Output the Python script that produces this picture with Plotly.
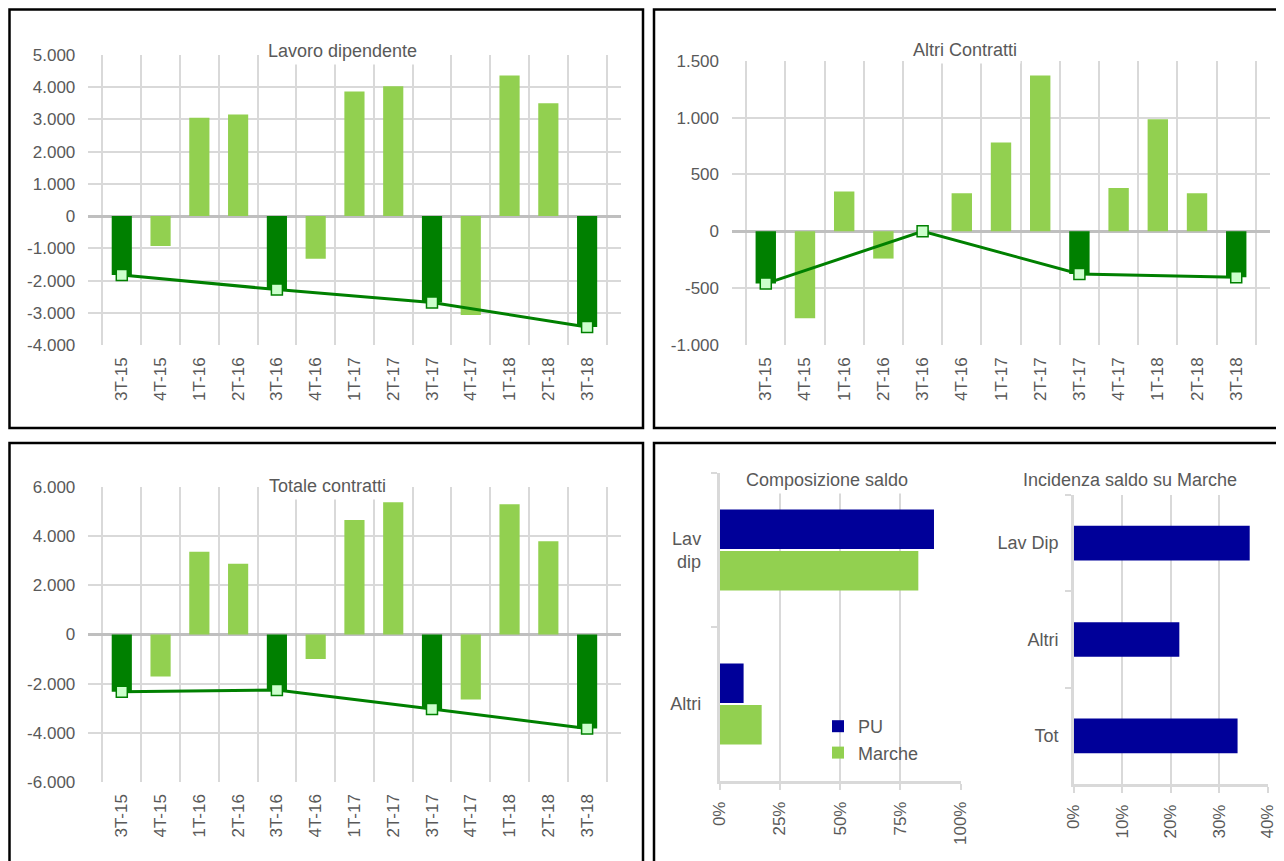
import plotly.graph_objects as go

# page body has an 8px margin: draw the figure smaller and shift coordinates
OFF = 8
W, H = 1284 - OFF, 861 - OFF

# data
quarters = ["3T-15", "4T-15", "1T-16", "2T-16", "3T-16", "4T-16", "1T-17",
            "2T-17", "3T-17", "4T-17", "1T-18", "2T-18", "3T-18"]
lavoro_dip = [-1830, -930, 3050, 3150, -2280, -1320, 3870, 4030, -2680, -3070, 4360, 3500, -3440]
altri_contratti = [-460, -765, 350, -240, 0, 335, 780, 1370, -375, 380, 985, 335, -405]
totale_contratti = [-2330, -1710, 3370, 2880, -2260, -1000, 4670, 5390, -3040, -2650, 5310, 3800, -3830]

lav_ticks = [-4000, -3000, -2000, -1000, 0, 1000, 2000, 3000, 4000, 5000]
altri_ticks = [-1000, -500, 0, 500, 1000, 1500]
tot_ticks = [-6000, -4000, -2000, 0, 2000, 4000, 6000]

comp_labels = ["Lav<br>dip", "Altri"]
comp_pu = [89, 10]
comp_marche = [82.5, 17.5]
comp_ticks = [0, 25, 50, 75, 100]

inc_labels = ["Lav Dip", "Altri", "Tot"]
inc_pu = [36.25, 21.75, 33.75]
inc_ticks = [0, 10, 20, 30, 40]

LIGHT = "#92D050"
DARK = "#008000"
BLUE = "#000099"
GRID = "#D9D9D9"
TXT = "#595959"
FONT = "Liberation Sans, Arial, sans-serif"


def fx(p):
    return (p - OFF) / W


def fy(p):
    return 1 - (p - OFF) / H


def thousands(v):
    return f"{v:,}".replace(",", ".")


fig = go.Figure()

panels = [
    ("x", "y", lavoro_dip),
    ("x2", "y2", altri_contratti),
    ("x3", "y3", totale_contratti),
]
for xa, ya, vals in panels:
    colors = [DARK if q.startswith("3T") else LIGHT for q in quarters]
    fig.add_trace(go.Bar(x=quarters, y=vals, marker_color=colors, marker_line_width=0,
                         width=0.52, xaxis=xa, yaxis=ya, showlegend=False))
    x3t = [q for q in quarters if q.startswith("3T")]
    y3t = [v for q, v in zip(quarters, vals) if q.startswith("3T")]
    fig.add_trace(go.Scatter(x=x3t, y=y3t, mode="lines+markers", xaxis=xa, yaxis=ya,
                             line=dict(color=DARK, width=3),
                             marker=dict(symbol="square", size=11, color="#CCFFCC",
                                         line=dict(color=DARK, width=1.5)),
                             showlegend=False))

# composizione saldo
fig.add_trace(go.Bar(y=comp_labels, x=comp_pu, orientation="h", name="PU",
                     marker_color=BLUE, marker_line_width=0, xaxis="x4", yaxis="y4"))
fig.add_trace(go.Bar(y=comp_labels, x=comp_marche, orientation="h", name="Marche",
                     marker_color=LIGHT, marker_line_width=0, xaxis="x4", yaxis="y4"))
# incidenza
fig.add_trace(go.Bar(y=inc_labels, x=inc_pu, orientation="h", name="PU", showlegend=False,
                     marker_color=BLUE, marker_line_width=0, xaxis="x5", yaxis="y5",
                     width=0.36))

tick_font = dict(family=FONT, size=17, color=TXT)

cat_x = dict(type="category", categoryorder="array", categoryarray=quarters,
             tickson="boundaries", ticks="", showgrid=True, gridcolor=GRID, gridwidth=1.5,
             tickangle=-90, tickfont=tick_font, showline=False, zeroline=False,
             ticklabelstandoff=8)


def val_y(ticks, anchor, top, bottom):
    return dict(range=[ticks[0], ticks[-1]], tickvals=ticks,
                ticktext=[thousands(t) for t in ticks], showgrid=True, gridcolor=GRID,
                gridwidth=1.5, zeroline=True, zerolinecolor="#BFBFBF", zerolinewidth=3,
                tickfont=tick_font, anchor=anchor, domain=[fy(bottom), fy(top)],
                ticklabelstandoff=12)


pct_x = dict(tickangle=-90, tickfont=tick_font, showgrid=True, gridcolor=GRID,
             gridwidth=1.5, showline=True, linecolor=GRID, linewidth=2.5,
             ticks="outside", ticklen=6, tickcolor=GRID, tickwidth=1.5, zeroline=False,
             ticklabelstandoff=5)
cat_y = dict(autorange="reversed", tickson="boundaries", ticks="outside", ticklen=6,
             tickcolor=GRID, tickwidth=1.5, showline=True, linecolor=GRID, linewidth=2.5,
             tickfont=dict(family=FONT, size=18, color=TXT), showgrid=False)

fig.update_layout(
    width=W, height=H, autosize=False,
    margin=dict(l=0, r=0, t=0, b=0, autoexpand=False),
    paper_bgcolor="white", plot_bgcolor="white",
    font=dict(family=FONT, color=TXT),
    bargap=0.46, bargroupgap=0.05, barmode="group",
    xaxis=dict(cat_x, domain=[fx(88.3), fx(620.6)], anchor="y"),
    yaxis=val_y(lav_ticks, "x", 55, 345),
    xaxis2=dict(cat_x, domain=[fx(732), fx(1270)], anchor="y2"),
    yaxis2=val_y(altri_ticks, "x2", 60.7, 345),
    xaxis3=dict(cat_x, domain=[fx(88.3), fx(620.6)], anchor="y3"),
    yaxis3=val_y(tot_ticks, "x3", 487.3, 781.7),
    xaxis4=dict(pct_x, domain=[fx(719.5), fx(960.5)], anchor="y4", range=[0, 100],
                tickvals=comp_ticks, ticktext=[f"{t}%" for t in comp_ticks]),
    yaxis4=dict(cat_y, domain=[fy(781), fy(473)], anchor="x4", ticklabelstandoff=12),
    xaxis5=dict(pct_x, domain=[fx(1073.8), fx(1267.9)], anchor="y5", range=[0, 40],
                tickvals=inc_ticks, ticktext=[f"{t}%" for t in inc_ticks]),
    yaxis5=dict(cat_y, domain=[fy(784), fy(495)], anchor="x5", ticklabelstandoff=9),
    legend=dict(x=fx(818), y=fy(708), xanchor="left", yanchor="top",
                font=dict(family=FONT, size=18, color=TXT), traceorder="normal",
                bgcolor="rgba(0,0,0,0)", tracegroupgap=0),
)

titles = [
    ("Lavoro dipendente", 342, 50.7),
    ("Altri Contratti", 965, 50),
    ("Totale contratti", 327.5, 485.7),
    ("Composizione saldo", 827, 480),
    ("Incidenza saldo su Marche", 1130, 480),
]
for text, x, y in titles:
    fig.add_annotation(text=text, x=fx(x), y=fy(y), xref="paper", yref="paper",
                       xanchor="center", yanchor="middle", showarrow=False,
                       bgcolor="white", borderpad=3,
                       font=dict(family=FONT, size=18, color=TXT))

# panel borders (left/top edges clamped to the visible figure area)
edge = OFF + 1.5
for x0, y0, x1, y1 in [(edge, edge, 643, 428), (654, edge, 1300, 428),
                       (edge, 443, 643, 880), (654, 443, 1300, 880)]:
    fig.add_shape(type="rect", xref="paper", yref="paper",
                  x0=fx(x0), x1=fx(x1), y0=fy(y1), y1=fy(y0),
                  line=dict(color="black", width=2.5), fillcolor="rgba(0,0,0,0)")

fig.write_html("out.html")
